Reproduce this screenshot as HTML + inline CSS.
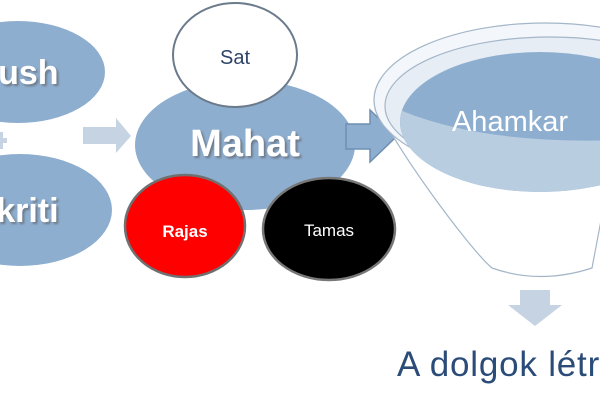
<!DOCTYPE html>
<html><head><style>
html,body{margin:0;padding:0;background:#fff;width:600px;height:400px;overflow:hidden}
svg text{font-family:"Liberation Sans",Arial,sans-serif}
</style></head><body>
<svg width="600" height="400" viewBox="0 0 600 400" xmlns="http://www.w3.org/2000/svg">
<defs>
<filter id="sh" x="-10%" y="-10%" width="130%" height="130%"><feDropShadow dx="2" dy="2" stdDeviation="1" flood-color="#555" flood-opacity="0.6"/></filter>
<clipPath id="dk"><ellipse cx="540" cy="122" rx="140" ry="70"/></clipPath>
</defs>
<!-- left ellipses -->
<ellipse cx="18" cy="72" rx="87" ry="51" fill="#8eaed0"/>
<ellipse cx="20" cy="210" rx="92" ry="56" fill="#8eaed0"/>
<text x="0" y="84" font-size="34" font-weight="bold" fill="#fff" text-anchor="middle" filter="url(#sh)">Purush</text>
<text x="0" y="222" font-size="34" font-weight="bold" fill="#fff" text-anchor="middle" filter="url(#sh)">Prakriti</text>
<rect x="0" y="138" width="7" height="5" fill="#c5d3e3"/>
<rect x="0" y="132" width="3" height="17" fill="#c5d3e3"/>
<!-- light arrow -->
<path d="M83,127 L116,127 L116,118 L131,136 L116,153 L116,144 L83,144 Z" fill="#c5d3e3"/>
<!-- Mahat -->
<ellipse cx="245" cy="145" rx="110" ry="65" fill="#8eaed0"/>
<text x="245" y="156" font-size="38" font-weight="bold" fill="#fff" text-anchor="middle" filter="url(#sh)">Mahat</text>
<ellipse cx="235" cy="55" rx="62" ry="52" fill="#fff" stroke="#6b7b8c" stroke-width="2"/>
<text x="235" y="64" font-size="20" fill="#2e4368" text-anchor="middle">Sat</text>
<ellipse cx="185" cy="226" rx="60" ry="51" fill="#ff0000" stroke="#707070" stroke-width="2.5"/>
<text x="185" y="237" font-size="17" font-weight="bold" fill="#fff" text-anchor="middle">Rajas</text>
<ellipse cx="329" cy="229" rx="66" ry="51" fill="#000" stroke="#777" stroke-width="2.5"/>
<text x="329" y="236" font-size="17" fill="#fff" text-anchor="middle">Tamas</text>
<!-- arrow to funnel -->
<path d="M346,124 L370,124 L370,110 L397,136 L370,162 L370,149 L346,149 Z" fill="#8eaed0" stroke="#6e8fb2" stroke-width="1.5"/>
<!-- funnel -->
<path d="M375,100 C385,135 470,250 492,268 Q540,285 592,268 L620,120" fill="#fff" stroke="#a4b6c8" stroke-width="1.2"/>
<ellipse cx="545" cy="100" rx="171" ry="77" fill="#f3f6fa" stroke="#a4b6c8" stroke-width="1.2"/>
<ellipse cx="550" cy="106" rx="165" ry="69" fill="#e6edf5" stroke="#a4b6c8" stroke-width="1.2"/>
<ellipse cx="540" cy="122" rx="140" ry="70" fill="#8eaed0"/>
<path d="M395,108 Q480,145 620,140 L620,200 L395,200 Z" fill="#b9cde1" clip-path="url(#dk)"/>
<text x="510" y="131" font-size="29" fill="#fff" text-anchor="middle">Ahamkar</text>
<!-- down arrow -->
<path d="M520,290 L550,290 L550,305 L562,305 L535,326 L508,305 L520,305 Z" fill="#c5d3e3"/>
<text x="397" y="376" font-size="35" letter-spacing="0.8" fill="#2b4c78">A dolgok létrejötte</text>
</svg>
</body></html>
